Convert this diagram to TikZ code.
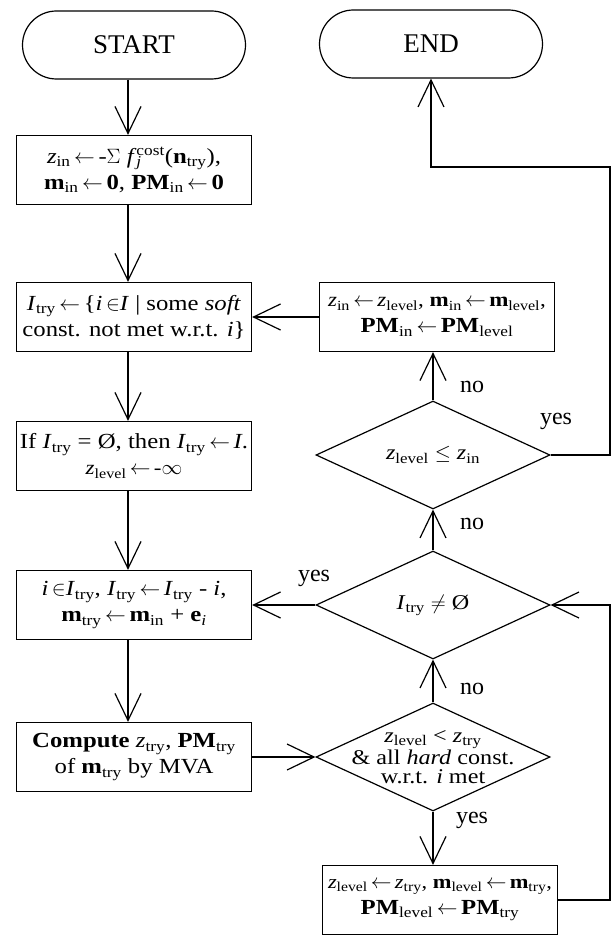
\documentclass[tikz,border=0pt]{standalone}
\usepackage{fontspec}
\setmainfont{Liberation Serif}
\newfontfamily\boxfont[FakeStretch=1.15]{Liberation Serif}
\usetikzlibrary{arrows.meta,shapes.geometric,calc}
\newcommand\zz[1]{\textit{z}\textsubscript{#1}}
\newcommand\bsub[2]{\textbf{#1}\textsubscript{#2}}
\newcommand\Isub[1]{\textit{I}\textsubscript{#1}}
\newcommand\lar{\,$\leftarrow$\,}
\begin{document}
\begin{tikzpicture}[x=1pt,y=-1pt,
  every node/.style={font=\boxfont\fontsize{21.5}{26}\selectfont},
  box/.style={draw,line width=1.3pt,minimum width=235pt,minimum height=69pt,align=center,inner sep=1pt},
  term/.style={draw,line width=1.2pt,minimum width=223pt,minimum height=68pt,rounded corners=34pt,font=\fontsize{27}{30}\selectfont},
  dec/.style={draw,diamond,line width=1.2pt,minimum width=234pt,minimum height=108pt,inner sep=0pt},
  dtext/.style={align=center,font=\boxfont\fontsize{21}{19.5}\selectfont},
  lbl/.style={font=\fontsize{24}{28}\selectfont},
  arr/.style={line width=1.2pt,-{Straight Barb[length=27pt,width=26pt,line width=1.2pt]}}]
\useasboundingbox (0,0) rectangle (612,936);
\coordinate (cl) at (128,0);
\coordinate (rr) at (610,0);
\coordinate (endturn) at (431,167);

\node[term] (start) at (134,45) {START};
\node[term] (end) at (431,44) {END};

\node[box] (b1) at (134,170) {\zz{in}\lar-$\Sigma$ \textit{f}\rlap{\textsubscript{\textit{j}}}\textsuperscript{cost}(\textbf{n}\textsubscript{try}),\\ \bsub{m}{in}\lar\textbf{0}, \bsub{PM}{in}\lar\textbf{0}};
\node[box] (b2) at (134,317) {\Isub{try}\lar\{\textit{i}\,$\in$\textit{I} | some \textit{soft}\\ const. not met w.r.t. \textit{i}\}};
\node[box] (b3) at (134,456) {If \Isub{try} = Ø, then \Isub{try}\lar\textit{I}.\\ {\fontsize{20}{22}\selectfont \zz{level}\lar-$\infty$}};
\node[box] (b4) at (134,605) {\textit{i}\,$\in$\Isub{try}, \Isub{try}\lar\Isub{try} - \textit{i},\\ \bsub{m}{try}\lar\bsub{m}{in} + \textbf{e}\textsubscript{\textit{i}}};
\node[box] (b5) at (134,757) {\textbf{Compute} \zz{try}, \bsub{PM}{try}\\ of \bsub{m}{try} by MVA};

\node[box] (r1) at (437,317) {{\fontsize{20}{22}\selectfont \zz{in}\lar\zz{level}, \bsub{m}{in}\lar\bsub{m}{level},}\\ \bsub{PM}{in}\lar\bsub{PM}{level}};
\node[box] (r2) at (440,900) {{\fontsize{19.5}{22}\selectfont \zz{level}\lar\zz{try}, \bsub{m}{level}\lar\bsub{m}{try},}\\ \bsub{PM}{level}\lar\bsub{PM}{try}};

\node[dec] (d1) at (433,455) {};
\node[dtext] (d1t) at (d1) {\zz{level} $\leq$ \zz{in}};
\node[dec] (d2) at (433,605) {};
\node[dtext] (d2t) at (d2) {\Isub{try} $\neq$ Ø};
\node[dec] (d3) at (433,757) {};
\node[dtext] (d3t) at (d3) {\zz{level} < \zz{try}\\ \& all \textit{hard} const.\\ w.r.t. \textit{i} met};

\draw[arr] (start.south -| cl) -- (b1.north -| cl);
\draw[arr] (b1.south -| cl) -- (b2.north -| cl);
\draw[arr] (b2.south -| cl) -- (b3.north -| cl);
\draw[arr] (b3.south -| cl) -- (b4.north -| cl);
\draw[arr] (b4.south -| cl) -- (b5.north -| cl);

\draw[arr] (r1.west) -- (b2.east);
\draw[arr] (d1.north) -- (r1.south -| d1.north);
\draw[arr] (d2.north) -- (d1.south);
\draw[arr] (d3.north) -- (d2.south);
\draw[arr] (d3.south) -- (r2.north -| d3.south);
\draw[arr] (d2.west) -- (b4.east);
\draw[arr] (b5.east) -- (d3.west);
\draw[arr] (d1.east) -- (d1.east -| rr) -- (rr |- endturn) -- (endturn) -- (end.south);
\draw[arr] (r2.east) -- (r2.east -| rr) -- (rr |- d2.east) -- (d2.east);

\node[lbl] (no1) at (472,387) {no};
\node[lbl] (no2) at (472,524) {no};
\node[lbl] (no3) at (472,689) {no};
\node[lbl] (yes1) at (556,421) {yes};
\node[lbl] (yes2) at (314,578) {yes};
\node[lbl] (yes3) at (472,820) {yes};
\end{tikzpicture}
\end{document}
